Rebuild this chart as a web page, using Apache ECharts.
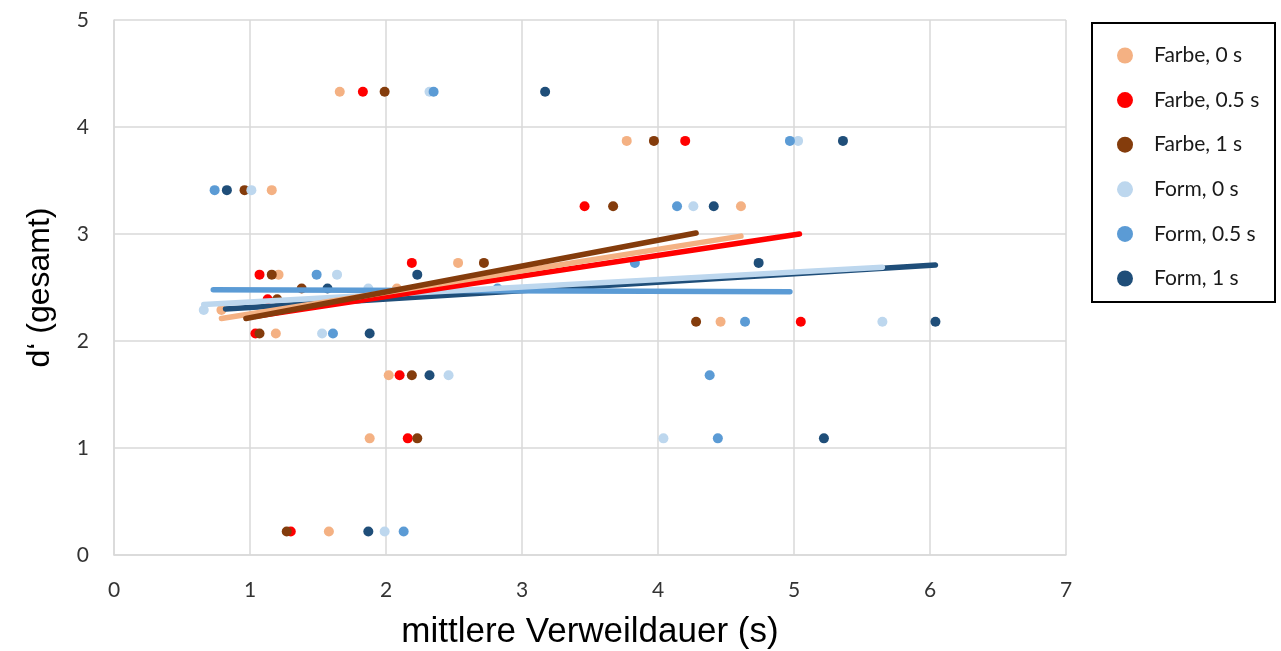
<!DOCTYPE html>
<html>
<head>
<meta charset="utf-8">
<script src="https://cdn.jsdelivr.net/npm/echarts@6/dist/echarts.min.js"></script>
<style>
  html, body { margin: 0; padding: 0; background: #ffffff; }
  #chart { width: 1281px; height: 651px; }
</style>
</head>
<body>
<div id="chart"></div>
<script>
// Series names and colours
const seriesNames = ['Farbe, 0 s', 'Farbe, 0.5 s', 'Farbe, 1 s', 'Form, 0 s', 'Form, 0.5 s', 'Form, 1 s'];
const seriesColors = ['#F4B183', '#FF0000', '#843C0C', '#BDD7EE', '#5B9BD5', '#1F4E79'];

// Points: [mittlere Verweildauer (s), d' (gesamt)]
const farbe0 = [[1.66,4.33],[3.77,3.87],[1.16,3.41],[4.61,3.26],[2.53,2.73],[1.21,2.62],[2.08,2.49],[0.79,2.29],[4.46,2.18],[1.19,2.07],[2.02,1.68],[1.88,1.09],[1.58,0.22]];
const farbe05 = [[1.83,4.33],[4.20,3.87],[3.46,3.26],[2.19,2.73],[1.07,2.62],[2.49,2.49],[1.13,2.39],[5.05,2.18],[1.04,2.07],[2.10,1.68],[2.16,1.09],[1.30,0.22]];
const farbe1 = [[1.99,4.33],[3.97,3.87],[0.96,3.41],[3.67,3.26],[2.72,2.73],[1.16,2.62],[1.38,2.49],[1.20,2.39],[4.28,2.18],[1.07,2.07],[2.19,1.68],[2.23,1.09],[1.27,0.22]];
const form0 = [[2.32,4.33],[5.03,3.87],[1.01,3.41],[4.26,3.26],[1.64,2.62],[1.87,2.49],[0.66,2.29],[5.65,2.18],[1.53,2.07],[2.46,1.68],[4.04,1.09],[1.99,0.22]];
const form05 = [[2.35,4.33],[4.97,3.87],[0.74,3.41],[4.14,3.26],[3.83,2.73],[1.49,2.62],[2.82,2.49],[4.64,2.18],[1.61,2.07],[4.38,1.68],[4.44,1.09],[2.13,0.22]];
const form1 = [[3.17,4.33],[5.36,3.87],[0.83,3.41],[4.41,3.26],[4.74,2.73],[2.23,2.62],[1.57,2.49],[6.04,2.18],[1.88,2.07],[2.32,1.68],[5.22,1.09],[1.87,0.22]];
const pointSets = [farbe0, farbe05, farbe1, form0, form05, form1];

// Linear trend lines: start and end of each fitted line
const trendX0 = [0.79, 1.04, 0.97, 0.66, 0.73, 0.82];
const trendY0 = [2.21, 2.23, 2.21, 2.34, 2.48, 2.30];
const trendX1 = [4.61, 5.04, 4.28, 5.65, 4.97, 6.04];
const trendY1 = [2.98, 3.00, 3.01, 2.69, 2.46, 2.71];

// Axis ticks
const xTicks = [0, 1, 2, 3, 4, 5, 6, 7];
const yTicks = [0, 1, 2, 3, 4, 5];

const chart = echarts.init(document.getElementById('chart'), null, { renderer: 'canvas' });

const scatterSeries = seriesNames.map((name, i) => ({
  name: name,
  type: 'scatter',
  data: pointSets[i],
  symbol: 'circle',
  symbolSize: 10,
  itemStyle: { color: seriesColors[i], opacity: 1 },
  z: 2
}));

// draw order of the trend lines (last on top)
const trendOrder = [5, 4, 3, 1, 0, 2];
const trendSeries = trendOrder.map((i, k) => ({
  name: seriesNames[i] + ' Trend',
  type: 'line',
  data: [[trendX0[i], trendY0[i]], [trendX1[i], trendY1[i]]],
  symbol: 'none',
  lineStyle: { color: seriesColors[i], width: 5.5, cap: 'round' },
  silent: true,
  z: 3 + k
}));

const gridLeft = 114, gridTop = 20, gridRight = 1281 - 1066, gridBottom = 651 - 555;

chart.setOption({
  animation: false,
  backgroundColor: '#ffffff',
  grid: {
    left: gridLeft, top: gridTop, right: gridRight, bottom: gridBottom,
    containLabel: false,
    outerBoundsMode: 'none'
  },
  xAxis: {
    type: 'value',
    min: xTicks[0], max: xTicks[xTicks.length - 1], interval: 1,
    name: 'mittlere Verweildauer (s)',
    nameLocation: 'middle',
    nameGap: 60,
    nameTextStyle: { fontFamily: 'Liberation Sans', fontSize: 35, color: '#000000' },
    axisLine: { show: true, lineStyle: { color: '#d9d9d9', width: 1.5 } },
    axisTick: { show: false },
    axisLabel: { margin: 25, fontFamily: 'Lato', fontSize: 21, color: '#333333' },
    splitLine: { show: true, lineStyle: { color: '#d9d9d9', width: 1.5 } }
  },
  yAxis: {
    type: 'value',
    min: yTicks[0], max: yTicks[yTicks.length - 1], interval: 1,
    name: 'd\u2018 (gesamt)',
    nameLocation: 'middle',
    nameGap: 58,
    nameRotate: 90,
    nameTextStyle: { fontFamily: 'Liberation Sans', fontSize: 32, color: '#000000' },
    axisLine: { show: true, lineStyle: { color: '#d9d9d9', width: 1.5 } },
    axisTick: { show: false },
    axisLabel: { margin: 25, fontFamily: 'Lato', fontSize: 21, color: '#333333' },
    splitLine: { show: true, lineStyle: { color: '#d9d9d9', width: 1.5 } }
  },
  legend: {
    data: seriesNames.map((n, i) => ({ name: n, icon: 'circle', itemStyle: { color: seriesColors[i] } })),
    orient: 'vertical',
    left: 1093,
    top: 23,
    padding: [22, 10, 10, 24],
    itemWidth: 16,
    itemHeight: 16,
    itemGap: 23.6,
    selectedMode: false,
    textStyle: { fontFamily: 'Lato', fontSize: 21, color: '#1a1a1a', padding: [0, 0, 0, 16] }
  },
  graphic: [{
    type: 'rect',
    shape: { x: 1092, y: 23, width: 183, height: 279 },
    style: { fill: 'none', stroke: '#000000', lineWidth: 2 },
    silent: true
  }],
  series: scatterSeries.concat(trendSeries)
});
</script>
</body>
</html>
